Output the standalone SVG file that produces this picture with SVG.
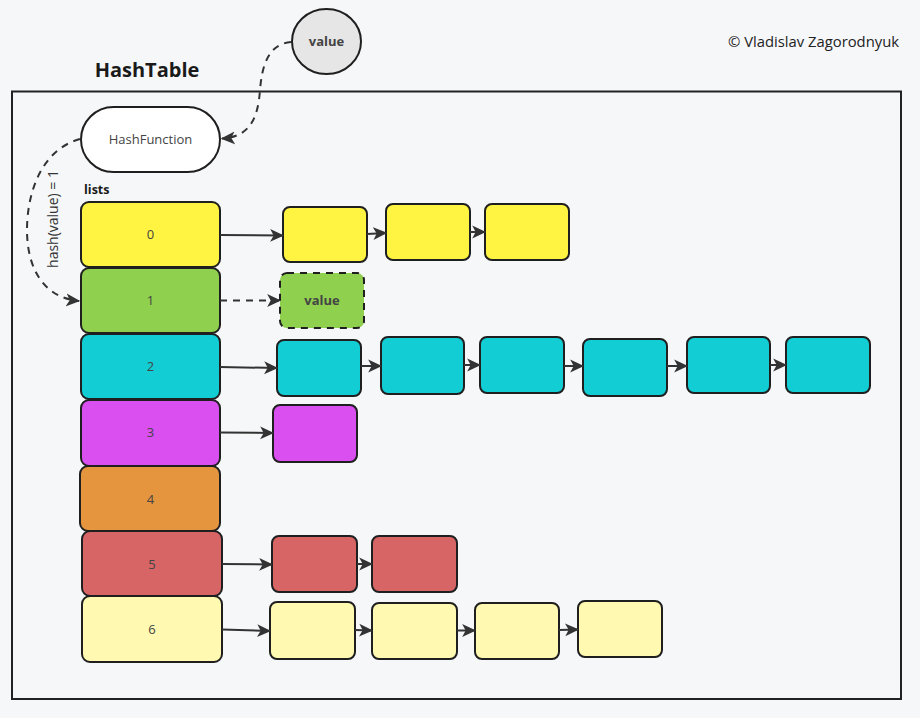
<svg xmlns="http://www.w3.org/2000/svg" width="920" height="718" viewBox="0 0 920 718">
<defs>
<style>
.bg{fill:#f6f7f9}
.frame{fill:none;stroke:#222;stroke-width:2}
.box{stroke:#1f1f1f;stroke-width:2}
.lbl{font-family:"Open Sans","Noto Sans",sans-serif;font-size:13px;fill:#444;text-anchor:middle}
.conn{fill:none;stroke:#333;stroke-width:2}
.dash{stroke-dasharray:7 6}
.y{fill:#fff441}.g{fill:#8fd14f}.c{fill:#12cdd4}.m{fill:#d94ff0}.o{fill:#e6953f}.r{fill:#d76566}.ly{fill:#fff9b1}
</style>
<marker id="ah" viewBox="0 0 12 12" refX="11" refY="6" markerWidth="14" markerHeight="14" markerUnits="userSpaceOnUse" orient="auto">
<path d="M0,0.5 L12,6 L0,11.5 L3,6 Z" fill="#333"/>
</marker>
</defs>
<rect class="bg" x="0" y="0" width="920" height="718"/>
<text x="899" y="47" font-family="'Open Sans','Noto Sans',sans-serif" font-size="14.8" fill="#222" text-anchor="end">© Vladislav Zagorodnyuk</text>
<g id="hashtable">
<rect class="frame" x="12" y="91.5" width="889" height="607.5"/>
<text x="147" y="77" font-family="'Open Sans','Noto Sans',sans-serif" font-size="20" font-weight="bold" fill="#1a1a1a" text-anchor="middle">HashTable</text>
<text x="84" y="194" font-family="'Open Sans','Noto Sans',sans-serif" font-size="12.5" font-weight="bold" fill="#1a1a1a">lists</text>
</g>
<g id="value-input">
<ellipse cx="326.5" cy="41.5" rx="34.5" ry="32.5" fill="#e6e6e6" stroke="#1f1f1f" stroke-width="2"/>
<text x="326.5" y="46" class="lbl" font-weight="bold" fill="#333">value</text>
</g>
<g id="hashfunction">
<rect x="81" y="107" width="139" height="65" rx="32.5" fill="#fff" stroke="#1f1f1f" stroke-width="2"/>
<text x="150.5" y="144" class="lbl">HashFunction</text>
</g>
<g id="index-column">
<g id="list-0"><rect class="box y" x="81" y="202" width="139" height="65" rx="8"/><text class="lbl" x="150.5" y="239">0</text></g>
<g id="list-1"><rect class="box g" x="81" y="268" width="139" height="65" rx="8"/><text class="lbl" x="150.5" y="305">1</text></g>
<g id="list-2"><rect class="box c" x="81" y="334" width="139" height="65" rx="8"/><text class="lbl" x="150.5" y="371">2</text></g>
<g id="list-3"><rect class="box m" x="81" y="400" width="139" height="66" rx="8"/><text class="lbl" x="150.5" y="437">3</text></g>
<g id="list-4"><rect class="box o" x="80" y="466" width="140" height="65" rx="8"/><text class="lbl" x="150.5" y="504">4</text></g>
<g id="list-5"><rect class="box r" x="82" y="531" width="140" height="65" rx="8"/><text class="lbl" x="152" y="569">5</text></g>
<g id="list-6"><rect class="box ly" x="82" y="596" width="140" height="66" rx="8"/><text class="lbl" x="152" y="634">6</text></g>
</g>
<g id="row-0">
<rect class="box y" x="283" y="207" width="84" height="55" rx="7"/>
<rect class="box y" x="386" y="204" width="84" height="56" rx="7"/>
<rect class="box y" x="485" y="204" width="84" height="56" rx="7"/>
</g>
<g id="row-1">
<rect class="box g dash" x="280" y="273" width="84" height="55" rx="7" stroke-dasharray="6 4"/>
<text class="lbl" x="322" y="305" font-weight="bold" fill="#333">value</text>
</g>
<g id="row-2">
<rect class="box c" x="277" y="340" width="84" height="56" rx="7"/>
<rect class="box c" x="381" y="337" width="83" height="57" rx="7"/>
<rect class="box c" x="480" y="337" width="84" height="56" rx="7"/>
<rect class="box c" x="583" y="339" width="84" height="57" rx="7"/>
<rect class="box c" x="687" y="337" width="83" height="56" rx="7"/>
<rect class="box c" x="786" y="337" width="84" height="56" rx="7"/>
</g>
<g id="row-3">
<rect class="box m" x="273" y="405" width="84" height="57" rx="7"/>
</g>
<g id="row-5">
<rect class="box r" x="272" y="536" width="85" height="56" rx="7"/>
<rect class="box r" x="372" y="536" width="85" height="56" rx="7"/>
</g>
<g id="row-6">
<rect class="box ly" x="270" y="602" width="85" height="57" rx="7"/>
<rect class="box ly" x="372" y="603" width="85" height="56" rx="7"/>
<rect class="box ly" x="475" y="603" width="84" height="56" rx="7"/>
<rect class="box ly" x="578" y="601" width="84" height="56" rx="7"/>
</g>
<g id="connectors">
<path class="conn dash" d="M291,42 C268,44 262,66 260,90 C258,118 250,137 222,138.5" marker-end="url(#ah)"/>
<path class="conn dash" d="M80,139 C40,150 27,195 27,230 C27,270 45,298 79,301" marker-end="url(#ah)"/>
<text transform="translate(58,219) rotate(-90)" font-family="'Open Sans','Noto Sans',sans-serif" font-size="14" fill="#333" text-anchor="middle">hash(value) = 1</text>
<path class="conn" d="M220,235 L283,235.5" marker-end="url(#ah)"/>
<path class="conn" d="M367,234 L386,233" marker-end="url(#ah)"/>
<path class="conn" d="M470,232 L485,232" marker-end="url(#ah)"/>
<path class="conn dash" d="M220,300.5 L280,300.5" marker-end="url(#ah)"/>
<path class="conn" d="M220,367 L277,368" marker-end="url(#ah)"/>
<path class="conn" d="M361,366 L381,366" marker-end="url(#ah)"/>
<path class="conn" d="M464,365 L480,365" marker-end="url(#ah)"/>
<path class="conn" d="M564,366 L583,366" marker-end="url(#ah)"/>
<path class="conn" d="M667,366 L687,366" marker-end="url(#ah)"/>
<path class="conn" d="M770,365 L786,365" marker-end="url(#ah)"/>
<path class="conn" d="M220,432.5 L273,433" marker-end="url(#ah)"/>
<path class="conn" d="M222,564 L272,564.5" marker-end="url(#ah)"/>
<path class="conn" d="M357,564 L372,564" marker-end="url(#ah)"/>
<path class="conn" d="M222,629.5 L270,631" marker-end="url(#ah)"/>
<path class="conn" d="M355,630 L372,630.5" marker-end="url(#ah)"/>
<path class="conn" d="M457,630.5 L475,630.5" marker-end="url(#ah)"/>
<path class="conn" d="M559,630 L578,629.5" marker-end="url(#ah)"/>
</g>
</svg>
